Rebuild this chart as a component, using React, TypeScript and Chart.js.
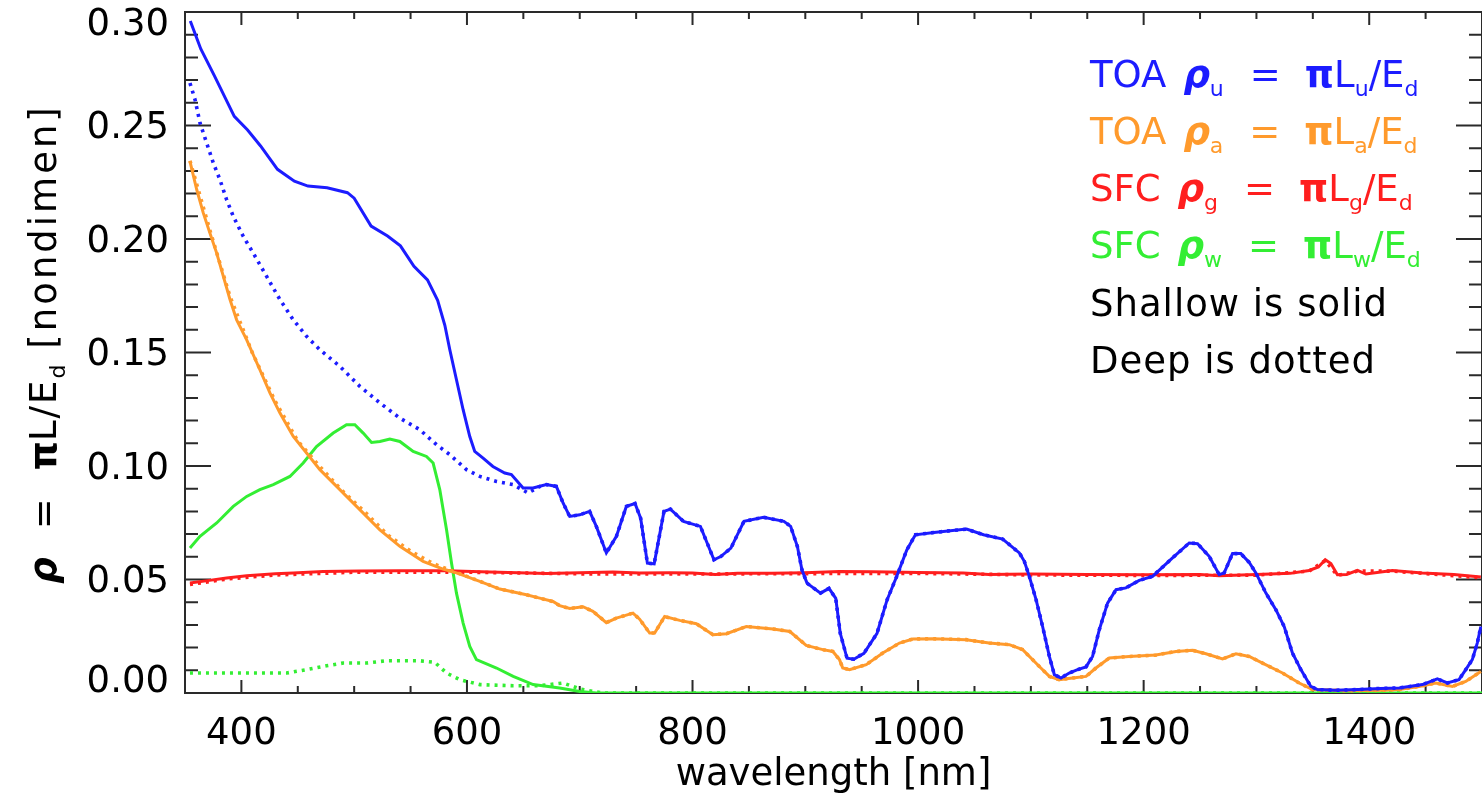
import React, { useEffect, useRef } from 'react';
import { Chart, registerables } from 'chart.js';

Chart.register(...registerables);

// ---------- data (wavelength nm, reflectance) ----------
const toaUpShallow: [number, number][] = [
  [354.7, 0.296], [364, 0.2837], [376, 0.272], [393.7, 0.254], [405.5, 0.248], [417, 0.241],
  [432, 0.2307], [447, 0.2255], [459, 0.2233], [476, 0.2226], [494, 0.2204], [500, 0.218],
  [515, 0.2057], [529.6, 0.2013], [541, 0.197], [553, 0.188], [565, 0.182], [574, 0.173],
  [580.4, 0.162], [584.8, 0.1512], [590.7, 0.138], [596.6, 0.1248], [602.5, 0.113], [606.9, 0.1064],
  [614.3, 0.1035], [623, 0.0998], [633.5, 0.0969], [639.4, 0.0962], [649.8, 0.0903], [658.6, 0.0903],
  [670.5, 0.0918], [679.3, 0.091], [685.2, 0.0837], [691.1, 0.0778], [700, 0.0785], [708.8, 0.08],
  [714.7, 0.0734], [723.6, 0.0617], [732.5, 0.069], [741.3, 0.0822], [749, 0.0835], [754, 0.077],
  [760, 0.0572], [766, 0.0569], [774.7, 0.08], [780.4, 0.081], [792, 0.0756], [807, 0.0734],
  [819, 0.0587], [825, 0.0601], [834, 0.0638], [845.6, 0.0756], [863, 0.0774], [881, 0.0756],
  [887, 0.0734], [893, 0.0645], [897, 0.0543], [901.5, 0.0484], [913.5, 0.044], [921, 0.0461],
  [927, 0.0417], [931, 0.0263], [937, 0.0153], [943, 0.0149], [952, 0.0175], [963.6, 0.0263],
  [972.5, 0.041], [981, 0.0513], [990, 0.063], [997.6, 0.0697], [1014, 0.0707], [1043, 0.0722],
  [1058, 0.0697], [1075, 0.0678], [1089.8, 0.0617], [1094.2, 0.058], [1098.6, 0.0514], [1104.6, 0.0411],
  [1110.4, 0.0293], [1116.4, 0.0161], [1120.8, 0.0081], [1126.7, 0.0066], [1134, 0.0088], [1141.4, 0.0103],
  [1148.9, 0.0115], [1154.7, 0.0161], [1160.7, 0.0279], [1168, 0.0396], [1175.5, 0.0455], [1184.3, 0.0463],
  [1196.1, 0.0496], [1207.9, 0.0514], [1225.6, 0.0595], [1240.4, 0.0661], [1247.8, 0.0658], [1258.1, 0.0602],
  [1267, 0.0521], [1271.4, 0.0529], [1278.8, 0.0614], [1286.2, 0.0614], [1293.6, 0.0575], [1299.5, 0.0529],
  [1308.4, 0.044], [1317.2, 0.0367], [1324.6, 0.0293], [1331.9, 0.0176], [1339.4, 0.0103], [1348.2, 0.0029],
  [1354.1, 0.0015], [1370, 0.0012], [1390, 0.0015], [1410, 0.002], [1426.5, 0.0022], [1447.2, 0.0037],
  [1460.4, 0.0062], [1469.3, 0.0044], [1479.6, 0.0059], [1485.6, 0.0103], [1491.4, 0.0147], [1495.8, 0.022],
  [1499, 0.0293],
];

const toaUpDeepBlue: [number, number][] = [
  [354.4, 0.2687], [358.9, 0.2614], [363.3, 0.2511], [369.2, 0.2423], [375.1, 0.2335], [381, 0.2261],
  [386.9, 0.2173], [392.8, 0.21], [401.7, 0.2011], [410.5, 0.1938], [422.4, 0.1835], [434.2, 0.1733],
  [446, 0.1644], [457.8, 0.1571], [469.6, 0.1512], [487.3, 0.1439], [505, 0.1351], [522.8, 0.1278],
  [540.5, 0.1211], [558.2, 0.116], [573, 0.1094], [584.8, 0.105], [599.6, 0.0984], [611.4, 0.0954],
  [626.2, 0.0932], [640.9, 0.0918], [654.2, 0.0881], [664.5, 0.091], [670.5, 0.0918], [679.3, 0.091],
];

const toaPathShallow: [number, number][] = [
  [354.4, 0.2342], [360.4, 0.2217], [366.2, 0.2115], [372.1, 0.2026], [378.1, 0.1938], [384, 0.1835],
  [389.9, 0.1733], [395.8, 0.1644], [404.7, 0.1556], [416.4, 0.1424], [425.3, 0.1322], [434.2, 0.1233],
  [446, 0.113], [457.8, 0.1057], [469.6, 0.0984], [484.4, 0.091], [502.1, 0.0822], [522.8, 0.0719],
  [540.5, 0.0646], [561.1, 0.058], [578.8, 0.0546], [590.7, 0.0529], [611.4, 0.0492], [629.1, 0.0458],
  [652.7, 0.0433], [664.5, 0.0418], [676.3, 0.0403], [682.2, 0.0385], [691.1, 0.0372], [702.9, 0.038],
  [711.7, 0.036], [723.6, 0.031], [732.5, 0.033], [747.2, 0.0352], [753.1, 0.0325], [762, 0.0264],
  [766.4, 0.0264], [775.3, 0.0337], [788.6, 0.032], [803.4, 0.0305], [818.1, 0.0257], [830, 0.0261],
  [847.7, 0.0293], [871.3, 0.0282], [886.3, 0.0271], [900.8, 0.021], [915.5, 0.0191], [924.4, 0.0183],
  [930.3, 0.0147], [933.2, 0.011], [939.2, 0.0103], [954, 0.0125], [968.7, 0.0176], [983.5, 0.022],
  [995.3, 0.0238], [1013, 0.0239], [1042.6, 0.0235], [1063, 0.022], [1080.9, 0.0213], [1092.7, 0.0191],
  [1107.5, 0.0117], [1116.4, 0.0073], [1125.2, 0.0059], [1137, 0.0066], [1148.9, 0.0073], [1157.7, 0.011],
  [1169.5, 0.0154], [1187.2, 0.0161], [1210.9, 0.0167], [1228.6, 0.0183], [1243.4, 0.0188], [1255.2, 0.0173],
  [1270, 0.015], [1281.8, 0.0173], [1293.6, 0.0161], [1305.4, 0.0132], [1323.1, 0.0088], [1337.9, 0.0044],
  [1349.7, 0.0015], [1380, 0.001], [1410, 0.0012], [1426.5, 0.0015], [1444.2, 0.0029], [1459, 0.0044],
  [1473.8, 0.0029], [1485.6, 0.0051], [1499, 0.0095],
];

const toaPathDeepBlue: [number, number][] = [
  [354.4, 0.2345], [372, 0.204], [390, 0.1745], [410, 0.1495], [430, 0.1285], [450, 0.111],
  [470, 0.0995], [490, 0.0888], [510, 0.0795], [530, 0.0695], [550, 0.0625], [570, 0.057],
  [590, 0.0532], [610, 0.0495],
];

const sfcGlintShallow: [number, number][] = [
  [354.4, 0.0485], [370, 0.0495], [386.9, 0.0507], [404.7, 0.0517], [430, 0.0525], [446, 0.0529],
  [472.5, 0.0535], [505, 0.0537], [540, 0.0538], [581.8, 0.0538], [620, 0.0533], [670.5, 0.0526],
  [700, 0.053], [729.5, 0.0533], [753, 0.0529], [780, 0.053], [800, 0.0529], [820, 0.0522],
  [840, 0.0527], [870, 0.0527], [900, 0.053], [930, 0.0535], [960, 0.0534], [1000, 0.0531],
  [1040, 0.0529], [1063, 0.0522], [1100, 0.0524], [1150, 0.0522], [1200, 0.0521], [1250, 0.0522],
  [1267, 0.0517], [1300, 0.0522], [1330, 0.0527], [1346.7, 0.054], [1355, 0.0555], [1361, 0.0587],
  [1366, 0.057], [1371.8, 0.0521], [1380, 0.0522], [1389.6, 0.054], [1397, 0.0524], [1420.5, 0.054],
  [1447, 0.0529], [1475, 0.0522], [1499, 0.0511],
];

const sfcGlintDeep: [number, number][] = [
  [354.4, 0.0478], [386.9, 0.0502], [430, 0.052], [500, 0.0532], [600, 0.0532], [700, 0.0525],
  [800, 0.0524], [900, 0.0526], [1000, 0.0527], [1100, 0.052], [1200, 0.0518], [1300, 0.0519],
  [1346.7, 0.0537], [1361, 0.0583], [1371.8, 0.0518], [1389.6, 0.0537], [1420.5, 0.0537], [1499, 0.0508],
];

const sfcWaterShallow: [number, number][] = [
  [354.4, 0.0639], [363.3, 0.069], [378.1, 0.0749], [392.8, 0.0822], [404.7, 0.0866], [416.4, 0.0896],
  [428.3, 0.0918], [443, 0.0954], [454.8, 0.1013], [466.6, 0.1086], [481.4, 0.1145], [493.2, 0.1182],
  [500.6, 0.1182], [508, 0.1145], [515.4, 0.1104], [522.8, 0.1108], [531.6, 0.1119], [540.5, 0.1108],
  [552.3, 0.1064], [564.1, 0.1042], [570, 0.1013], [575.9, 0.0896], [581.9, 0.0719], [586.3, 0.0573],
  [590.7, 0.044], [596.6, 0.0308], [602.5, 0.0205], [608.4, 0.0147], [626.2, 0.011], [641, 0.0073],
  [658.7, 0.0037], [682.2, 0.0022], [700, 0.0007], [714.7, 0], [900, 0], [1100, 0], [1300, 0], [1500, 0],
];

const sfcWaterDeep: [number, number][] = [
  [354.4, 0.0088], [380, 0.0088], [410, 0.0088], [440, 0.0088], [457.8, 0.0103], [475.5, 0.012],
  [490.3, 0.0132], [511, 0.0132], [528.7, 0.0142], [558.2, 0.0142], [571.5, 0.0135], [581.9, 0.0088],
  [593.6, 0.0059], [611.4, 0.0037], [640.9, 0.0032], [664.5, 0.0032], [685.2, 0.0044], [700, 0.0018],
  [711.7, 0.0007], [720, 0], [900, 0], [1100, 0], [1300, 0], [1500, 0],
];

// where the deep and shallow curves coincide, the deep curve follows the same read points
const toaUpDeep = [...toaUpDeepBlue, ...toaUpShallow.filter(([x]) => x > 682)];
const toaPathDeep = [...toaPathDeepBlue, ...toaPathShallow.filter(([x]) => x > 612)];

const xTickValues = [400, 600, 800, 1000, 1200, 1400];
const yTickValues = [0, 0.05, 0.1, 0.15, 0.2, 0.25, 0.3];
const xTitle = 'wavelength [nm]';
const legendEntries = [
  { pre: 'TOA', sub: 'u', color: '#1c1cff' },
  { pre: 'TOA', sub: 'a', color: '#ff9a2c' },
  { pre: 'SFC', sub: 'g', color: '#ff1e1e' },
  { pre: 'SFC', sub: 'w', color: '#33ee33' },
];
const legendNotes = ['Shallow is solid', 'Deep is dotted'];

const BLUE = '#1c1cff';
const ORANGE = '#ff9a2c';
const RED = '#ff1e1e';
const GREEN = '#33ee33';

const FAM = '"DejaVu Sans"';
const F_NORMAL = `37px ${FAM}`;
const F_GREEK = `italic bold 37px ${FAM}`;
const F_PI = `bold 37px ${FAM}`;
const F_SUB = `22px ${FAM}`;

type Seg = { t?: string; font?: string; dy?: number; gap?: number; ls?: number };

function drawSegs(ctx: CanvasRenderingContext2D, segs: Seg[], x: number, y: number, color: string) {
  let cx = x;
  ctx.fillStyle = color;
  ctx.textAlign = 'left';
  ctx.textBaseline = 'alphabetic';
  for (const s of segs) {
    if (s.gap) { cx += s.gap; continue; }
    ctx.font = s.font || F_NORMAL;
    (ctx as any).letterSpacing = `${s.ls || 0}px`;
    ctx.fillText(s.t || '', cx, y + (s.dy || 0));
    cx += ctx.measureText(s.t || '').width;
  }
  (ctx as any).letterSpacing = '0px';
  return cx;
}

function segsWidth(ctx: CanvasRenderingContext2D, segs: Seg[]) {
  let w = 0;
  for (const s of segs) {
    if (s.gap) { w += s.gap; continue; }
    ctx.font = s.font || F_NORMAL;
    (ctx as any).letterSpacing = `${s.ls || 0}px`;
    w += ctx.measureText(s.t || '').width;
  }
  (ctx as any).letterSpacing = '0px';
  return w;
}

const framePlugin = {
  id: 'idlFrame',
  beforeDatasetsDraw(chart: any) {
    const { ctx, chartArea, scales } = chart;
    const { left, right, top, bottom } = chartArea;
    const xs = scales.x;
    const ys = scales.y;
    ctx.save();
    ctx.strokeStyle = '#2a2a2a';
    ctx.lineWidth = 2;
    ctx.strokeRect(left, top, right - left, bottom - top);
    ctx.beginPath();
    for (let v = 350; v <= 1500; v += 50) {
      const px = xs.getPixelForValue(v);
      const len = xTickValues.includes(v) ? 13 : 7;
      ctx.moveTo(px, bottom); ctx.lineTo(px, bottom - len);
      ctx.moveTo(px, top); ctx.lineTo(px, top + len);
    }
    for (let i = 0; i <= 30; i++) {
      const py = ys.getPixelForValue(i / 100);
      const len = i % 5 === 0 ? 26 : 13;
      ctx.moveTo(left, py); ctx.lineTo(left + len, py);
      ctx.moveTo(right, py); ctx.lineTo(right - len, py);
    }
    ctx.stroke();
    ctx.restore();
  },
  afterDraw(chart: any) {
    const { ctx } = chart;
    ctx.save();
    // y-axis title
    const titleSegs: Seg[] = [
      { t: 'ρ', font: F_GREEK }, { gap: 28 }, { t: '=' }, { gap: 28 },
      { t: 'π', font: F_PI }, { t: 'L/E', ls: 2 }, { t: 'd', font: F_SUB, dy: 9 }, { gap: 16 },
      { t: '[nondimen]', ls: 3 },
    ];
    const tw = segsWidth(ctx, titleSegs);
    ctx.translate(56, 344);
    ctx.rotate(-Math.PI / 2);
    drawSegs(ctx, titleSegs, -tw / 2, 0, '#000');
    ctx.restore();

    // legend
    ctx.save();
    const lx = 1090;
    const baselines = [87, 144, 201, 258, 316, 373];
    legendEntries.forEach((e, i) => {
      const segs: Seg[] = [
        { t: e.pre }, { gap: 17 }, { t: 'ρ', font: F_GREEK }, { t: e.sub, font: F_SUB, dy: 9 },
        { gap: 26 }, { t: '=' }, { gap: 24 }, { t: 'π', font: F_PI }, { t: 'L' },
        { t: e.sub, font: F_SUB, dy: 9 }, { t: '/' }, { t: 'E' }, { t: 'd', font: F_SUB, dy: 9 },
      ];
      drawSegs(ctx, segs, lx, baselines[i], e.color);
    });
    legendNotes.forEach((n, i) => {
      drawSegs(ctx, [{ t: n, ls: 1 }], lx, baselines[4 + i], '#000');
    });
    ctx.restore();
  },
};

function toPts(arr: [number, number][]) {
  return arr.map(([x, y]) => ({ x, y }));
}

export default function App() {
  const ref = useRef<HTMLCanvasElement | null>(null);

  useEffect(() => {
    if (!ref.current) return;
    const solid = (label: string, data: [number, number][], color: string) => ({
      label, data: toPts(data), borderColor: color, backgroundColor: color,
      borderWidth: 3, pointRadius: 0, tension: 0, fill: false,
    });
    const dotted = (label: string, data: [number, number][], color: string) => ({
      label, data: toPts(data), borderColor: color, backgroundColor: color,
      borderWidth: 3.6, borderDash: [3, 5], pointRadius: 0, tension: 0, fill: false,
    });
    const chart = new Chart(ref.current, {
      type: 'line',
      data: {
        datasets: [
          solid('TOA ρu shallow', toaUpShallow, BLUE),
          dotted('TOA ρu deep', toaUpDeep, BLUE),
          solid('TOA ρa shallow', toaPathShallow, ORANGE),
          dotted('TOA ρa deep', toaPathDeep, ORANGE),
          solid('SFC ρg shallow', sfcGlintShallow, RED),
          dotted('SFC ρg deep', sfcGlintDeep, RED),
          solid('SFC ρw shallow', sfcWaterShallow, GREEN),
          dotted('SFC ρw deep', sfcWaterDeep, GREEN),
        ] as any,
      },
      options: {
        responsive: false,
        maintainAspectRatio: false,
        animation: false,
        parsing: false as any,
        layout: { padding: { top: 12, left: 0, right: 0, bottom: 0 } },
        plugins: { legend: { display: false }, tooltip: { enabled: false } },
        scales: {
          x: {
            type: 'linear',
            min: 350,
            max: 1500,
            grid: { display: false, drawTicks: false },
            border: { display: false },
            afterBuildTicks: (s: any) => { s.ticks = xTickValues.map((value) => ({ value })); },
            afterFit: (s: any) => { s.height = 107; s.paddingLeft = 0; s.paddingRight = 0; },
            ticks: {
              autoSkip: false, maxRotation: 0, minRotation: 0, padding: 19, color: '#000',
              font: { family: 'DejaVu Sans', size: 37 },
              callback: (v: any) => String(v),
            },
            title: {
              display: true, text: xTitle, color: '#000',
              font: { family: 'DejaVu Sans', size: 37 }, padding: { top: 0, bottom: 2 },
            },
          },
          y: {
            type: 'linear',
            min: 0,
            max: 0.3,
            grid: { display: false, drawTicks: false },
            border: { display: false },
            afterBuildTicks: (s: any) => { s.ticks = yTickValues.map((value) => ({ value })); },
            afterFit: (s: any) => { s.width = 185; s.paddingTop = 0; s.paddingBottom = 0; },
            ticks: {
              autoSkip: false, padding: 16, color: '#000', labelOffset: 3,
              font: (c: any) => ({
                family: 'DejaVu Sans', size: 37,
                lineHeight: c.index === 0 ? 0.75 : c.index === yTickValues.length - 1 ? 0.57 : 1.2,
              }),
              callback: (v: any, i: number) => {
                const s = Number(v).toFixed(2);
                if (i === 0) return [s, ''];
                if (i === yTickValues.length - 1) return ['', s];
                return s;
              },
            },
          },
        },
      } as any,
      plugins: [framePlugin],
    });
    return () => chart.destroy();
  }, []);

  return (
    <div style={{ position: 'fixed', left: 0, top: 0, width: 1482, height: 800, background: '#fff' }}>
      <canvas ref={ref} width={1482} height={800} style={{ display: 'block' }} />
    </div>
  );
}
